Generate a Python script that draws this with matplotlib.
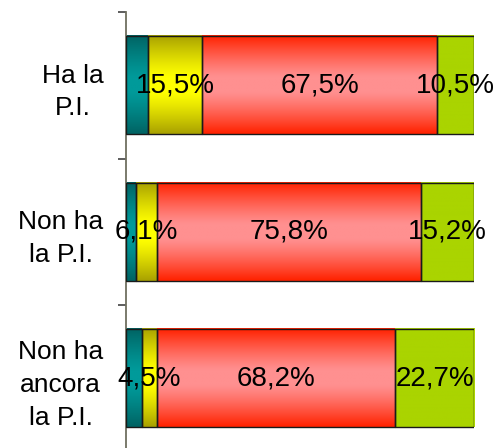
import numpy as np
import matplotlib
matplotlib.use("Agg")
import matplotlib.pyplot as plt
from matplotlib.colors import to_rgb

plt.rcParams['font.family'] = ['Liberation Sans', 'DejaVu Sans']

categories = ["Ha la\nP.I.", "Non ha\nla P.I.", "Non ha\nancora\nla P.I."]
teal_vals = [6.5, 2.9, 4.6]
yellow_vals = [15.5, 6.1, 4.5]
red_vals = [67.5, 75.8, 68.2]
green_vals = [10.5, 15.2, 22.7]
series = [teal_vals, yellow_vals, red_vals, green_vals]
show_label = [False, True, True, True]

# (edge colour, middle colour) for gradient fills
grad_colors = [("#006363", "#009a9a"),
               ("#a9a200", "#ffff00"),
               ("#ff2200", "#ff9090"),
               ("#aad400", "#aad400")]

fig = plt.figure(figsize=(4.97, 4.48), dpi=100)
top = 1 - 12 / 448
height = 439.5 / 448
ax = fig.add_axes([125.5 / 497, top - height, 348.5 / 497, height])

y = np.arange(len(categories))
bar_h = 0.67
left = np.zeros(len(categories))

for vals, (ce, cm), lab in zip(series, grad_colors, show_label):
    bars = ax.barh(y, vals, left=left, height=bar_h, facecolor="none",
                   edgecolor="#1a1a1a", linewidth=1.0, zorder=3)
    e = np.array(to_rgb(ce)); m = np.array(to_rgb(cm))
    n = 64
    t = np.abs(np.linspace(-1, 1, n))
    w = np.clip((t - 0.15) / 0.85, 0, 1) ** 1.2
    grad = m[None, :] * (1 - w[:, None]) + e[None, :] * w[:, None]
    img = grad[:, None, :]
    for p, v in zip(bars.patches, vals):
        x0, y0, wd, ht = p.get_x(), p.get_y(), p.get_width(), p.get_height()
        ax.imshow(img, extent=[x0, x0 + wd, y0 + ht, y0], aspect="auto",
                  interpolation="bilinear", zorder=2)
        if lab:
            ax.text(x0 + wd / 2, y0 + ht / 2, f"{v:.1f}%".replace(".", ","),
                    ha="center", va="center", fontsize=20, color="black",
                    zorder=5, clip_on=False)
    left = left + np.array(vals)

ax.set_xlim(0, 100)
ax.set_ylim(len(categories) - 0.5, -0.5)

for s in ["top", "right", "bottom"]:
    ax.spines[s].set_visible(False)
ax.spines["left"].set_color("#707060")
ax.spines["left"].set_linewidth(1.3)
ax.set_xticks([])
ax.set_yticks(y)
ax.set_yticklabels(categories, fontsize=19, multialignment="center",
                   linespacing=1.45)
ax.tick_params(axis="y", which="major", length=0, pad=16)
ax.set_yticks(np.arange(-0.5, len(categories), 1.0), minor=True)
ax.tick_params(axis="y", which="minor", length=6, width=1.3,
               color="#505050", direction="out")

fig.savefig("out.png", dpi=100)
